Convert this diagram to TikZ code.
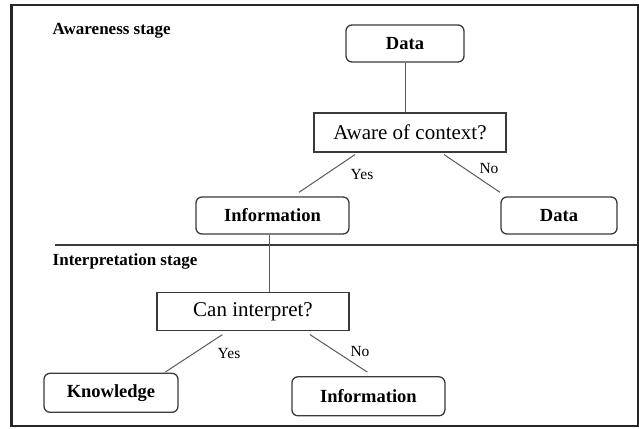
\documentclass[tikz,border=0pt]{standalone}
\usepackage{fontspec}
\setmainfont{Liberation Serif}
\usetikzlibrary{calc}
\definecolor{boxline}{HTML}{3A3A3A}
\definecolor{conline}{HTML}{5A5A5A}
\tikzset{
  rbox/.style={draw=boxline, line width=1.3pt, rounded corners=6pt, inner sep=0pt, align=center,
    font=\fontsize{18.5}{20}\selectfont\bfseries},
  qbox/.style={draw=boxline, line width=1.1pt, inner sep=0pt, align=center,
    font=\fontsize{21}{23}\selectfont},
  conn/.style={draw=conline, line width=1pt},
  lbl/.style={inner sep=0pt, font=\fontsize{15.5}{17}\selectfont},
  stagelbl/.style={inner sep=0pt, anchor=west, font=\fontsize{17}{19}\selectfont\bfseries},
}
\begin{document}
\begin{tikzpicture}[x=1pt,y=-1pt]
\useasboundingbox (0,0) rectangle (639,428);
\fill[white] (0,0) rectangle (639,428);
% frame
\draw[line width=2.4pt, color=black!85] (11.3,5.3) rectangle (638.5,425.8);
% stage labels
\node[stagelbl] (aw) at (52.5,31) {Awareness stage};
\node[stagelbl] (it) at (52.5,261) {Interpretation stage};
% separator
\coordinate (sepL) at (55,245);
\coordinate (sepR) at (637,245);
\draw[conn, line width=1.1pt, color=boxline] (sepL) -- (sepR);
% nodes
\node[rbox, minimum width=118pt, minimum height=37pt] (data1) at (405,43.5) {Data};
\node[qbox, minimum width=192pt, minimum height=39pt] (aware) at (410,132.5) {Aware of context?};
\node[rbox, minimum width=153pt, minimum height=37pt] (info1) at (272.5,215.5) {Information};
\node[rbox, minimum width=116pt, minimum height=37pt] (data2) at (559,215.5) {Data};
\node[qbox, minimum width=192pt, minimum height=37.5pt] (can) at (253,311.3) {Can interpret?};
\node[rbox, minimum width=134pt, minimum height=39pt] (know) at (111,392.8) {Knowledge};
\node[rbox, minimum width=153pt, minimum height=39pt] (info2) at (368.4,396.3) {Information};
% connectors
\draw[conn] (data1.south) -- (data1.south |- aware.north);
\draw[conn] ([shift={(-55,2)}]aware.south) -- ([shift={(26.5,-4)}]info1.north);
\draw[conn] ([shift={(34,2)}]aware.south) -- ([shift={(-59,-4)}]data2.north);
\draw[conn] ([xshift=-3.5]info1.south) -- ([xshift=16]can.north);
\draw[conn] ([shift={(-30.6,4)}]can.south) -- ([shift={(54.3,-0.6)}]know.north);
\draw[conn] ([shift={(57,4)}]can.south) -- ([shift={(-1,-4)}]info2.north);
% branch labels
\node[lbl] (y1) at (362,174) {Yes};
\node[lbl] (n1) at (489,168) {No};
\node[lbl] (y2) at (229,353.3) {Yes};
\node[lbl] (n2) at (360,351.7) {No};
\end{tikzpicture}
\end{document}
